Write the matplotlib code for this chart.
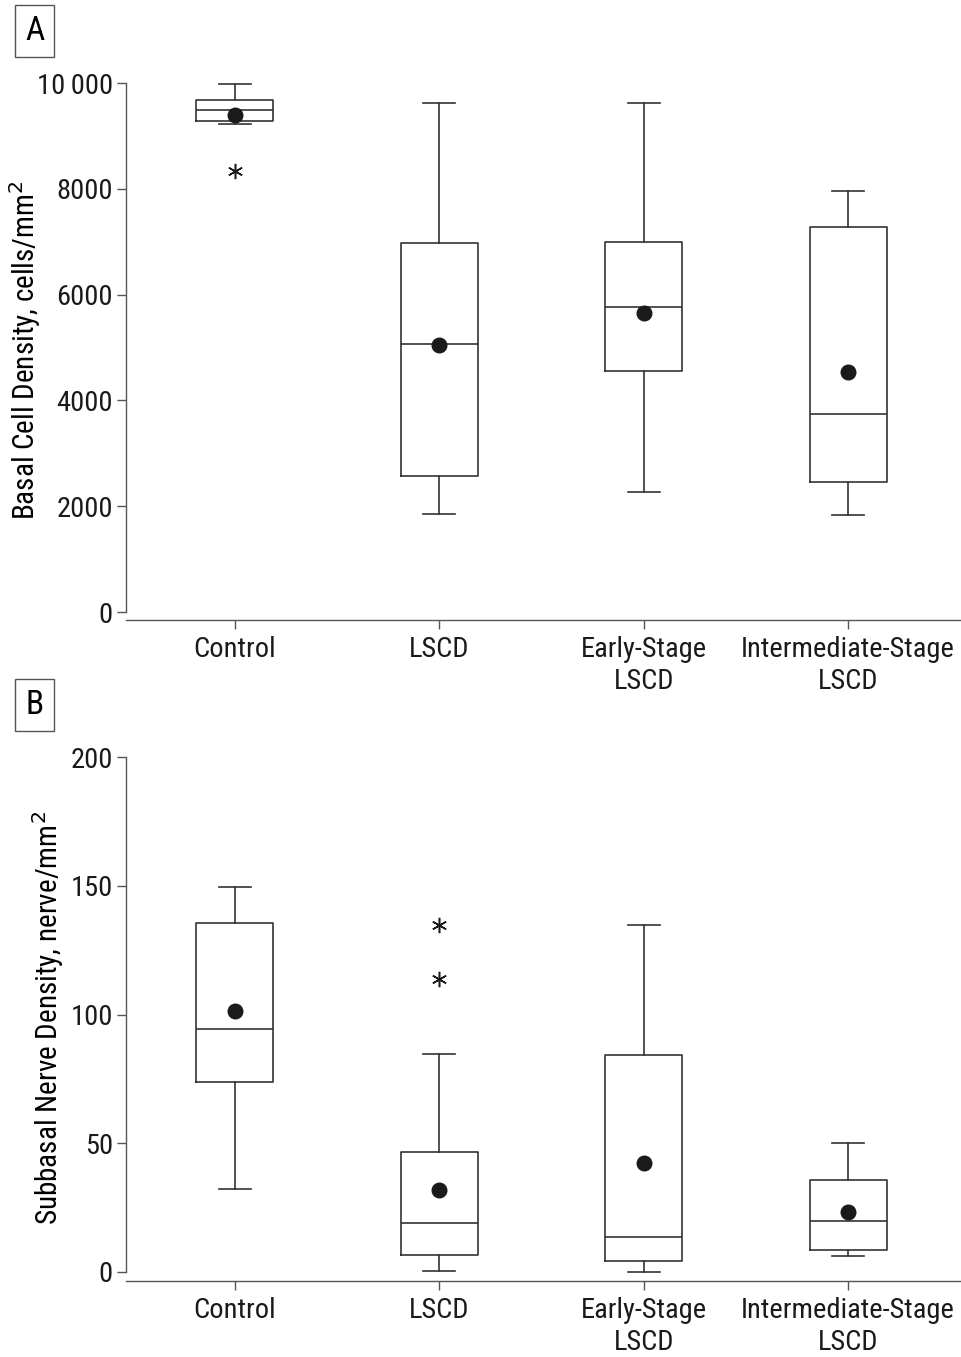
import matplotlib.pyplot as plt
from matplotlib import font_manager

# categorias
grupos = ["Control", "LSCD", "Early-Stage\nLSCD", "Intermediate-Stage\nLSCD"]

# painel A - densidade de celulas basais
a_whislo = [9225, 1853, 2268, 1834]
a_q1 = [9282, 2571, 4556, 2457]
a_med = [9490, 5066, 5766, 3743]
a_q3 = [9679, 6975, 6994, 7278]
a_whishi = [9981, 9622, 9622, 7958]
a_media = [9395, 5047, 5652, 4537]
a_outliers = [[8337], [], [], []]
a_ticks = [0, 2000, 4000, 6000, 8000, 10000]
a_ticklabels = ["0", "2000", "4000", "6000", "8000", "10\u2009000"]

# painel B - densidade de nervos subbasais
b_whislo = [32.2, 0.3, 0.0, 6.2]
b_q1 = [73.8, 6.6, 4.3, 8.5]
b_med = [94.4, 19.0, 13.6, 19.8]
b_q3 = [135.4, 46.6, 84.3, 35.7]
b_whishi = [149.7, 84.7, 134.7, 50.0]
b_media = [101.4, 31.8, 42.3, 23.3]
b_outliers = [[], [113.8, 134.8], [], []]
b_ticks = [0, 50, 100, 150, 200]

nomes = [f.name for f in font_manager.fontManager.ttflist]
familia = []
for nome in ["Roboto Condensed", "Liberation Sans Narrow"]:
    if nome in nomes:
        familia.append(nome)
familia.append("DejaVu Sans")
plt.rcParams["font.family"] = familia
plt.rcParams["font.size"] = 20

cor_linha = "#333333"
cor_eixo = "#555555"

fig = plt.figure(figsize=(9.62, 13.57), dpi=100)


def painel(ax, whislo, q1, med, q3, whishi, media, outliers, ticks, ticklabels, ylim, ylabel, label_x):
    stats = []
    for i in range(len(grupos)):
        stats.append({
            "whislo": whislo[i], "q1": q1[i], "med": med[i], "q3": q3[i],
            "whishi": whishi[i], "mean": media[i], "fliers": outliers[i],
        })
    posicoes = list(range(1, len(grupos) + 1))
    ax.bxp(
        stats,
        positions=posicoes,
        widths=0.377,
        showmeans=True,
        showfliers=True,
        boxprops=dict(color=cor_linha, linewidth=1.2),
        medianprops=dict(color=cor_linha, linewidth=1.2),
        whiskerprops=dict(color=cor_linha, linewidth=1.2),
        capprops=dict(color=cor_linha, linewidth=1.2),
        capwidths=0.156,
        meanprops=dict(marker="o", markerfacecolor="#1a1a1a", markeredgecolor="#1a1a1a", markersize=10.5),
        flierprops=dict(marker=(6, 2, 0), markeredgecolor="#1a1a1a", markersize=11, markeredgewidth=1.1),
    )
    ax.set_xlim(0.467, 4.557)
    ax.set_ylim(*ylim)
    ax.set_xticks(posicoes)
    ax.set_xticklabels(grupos, linespacing=1.25)
    ax.set_yticks(ticks)
    ax.set_yticklabels(ticklabels)
    ax.set_ylabel(ylabel, fontsize=21)
    ax.yaxis.set_label_coords(label_x, 0.5)
    for lado in ["top", "right"]:
        ax.spines[lado].set_visible(False)
    ax.spines["left"].set_bounds(ticks[0], ticks[-1])
    for lado in ["left", "bottom"]:
        ax.spines[lado].set_color(cor_eixo)
        ax.spines[lado].set_linewidth(1.0)
    ax.tick_params(axis="both", length=6.5, width=1.0, color=cor_eixo, labelcolor="#1a1a1a", labelsize=20.5)
    ax.tick_params(axis="x", pad=5)
    ax.tick_params(axis="y", pad=3)


# painel A
axA = fig.add_axes([126 / 962, 1 - 620 / 1357, 1 - 126 / 962, (620 - 80) / 1357])
painel(axA, a_whislo, a_q1, a_med, a_q3, a_whishi, a_media, a_outliers,
       a_ticks, a_ticklabels, (-151, 10057), "Basal Cell Density, cells/mm$^2$", -0.099)

# painel B
axB = fig.add_axes([126 / 962, 1 - 1281 / 1357, 1 - 126 / 962, (1281 - 755) / 1357])
painel(axB, b_whislo, b_q1, b_med, b_q3, b_whishi, b_media, b_outliers,
       b_ticks, [str(t) for t in b_ticks], (-3.5, 200.8), "Subbasal Nerve Density, nerve/mm$^2$", -0.072)

fig.text(34.5 / 962, 1 - 31 / 1357, "A", ha="center", va="center", fontsize=24,
         bbox=dict(boxstyle="square,pad=0.3", facecolor="white", edgecolor=cor_eixo, linewidth=1.0))
fig.text(34.5 / 962, 1 - 705 / 1357, "B", ha="center", va="center", fontsize=24,
         bbox=dict(boxstyle="square,pad=0.3", facecolor="white", edgecolor=cor_eixo, linewidth=1.0))

plt.savefig("out.png", dpi=100)
plt.close()
